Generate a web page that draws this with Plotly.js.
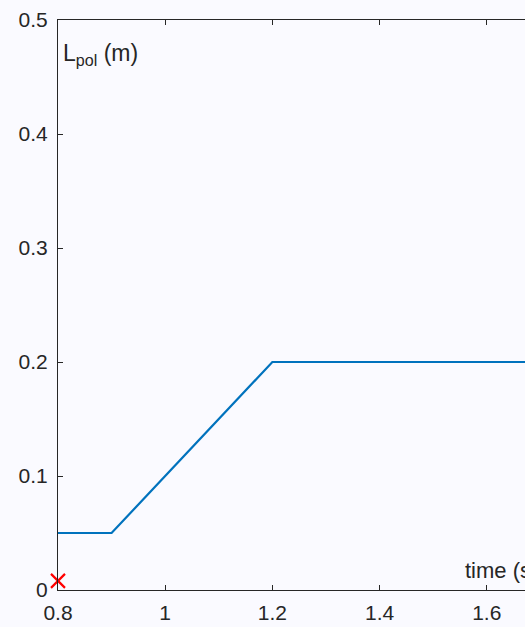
<!DOCTYPE html>
<html>
<head>
<meta charset="utf-8">
<script src="https://cdn.plot.ly/plotly-3.0.1.min.js"></script>
<style>
html,body{margin:0;padding:0;background:#fafaff;overflow:hidden;}
#chart{width:525px;height:627px;}
</style>
</head>
<body>
<div id="chart"></div>
<script>
// Data
var time = [0.8, 0.9, 1.2, 1.8];
var lpol = [0.05, 0.05, 0.2, 0.2];
var markerTime = [0.8];
var markerVal = [0.008];
var xTicks = [0.8, 1, 1.2, 1.4, 1.6];
var xTickText = ['0.8', '1', '1.2', '1.4', '1.6'];
var yTicks = [0, 0.1, 0.2, 0.3, 0.4, 0.5];
var yTickText = ['0', '0.1', '0.2', '0.3', '0.4', '0.5'];

var FONT = 'Liberation Sans, Arial, Helvetica, sans-serif';
var INK = '#262626';

var traces = [
  {x: time, y: lpol, type: 'scatter', mode: 'lines',
   line: {color: '#0072BD', width: 2.2}, hoverinfo: 'skip'},
  {x: markerTime, y: markerVal, type: 'scatter', mode: 'markers', cliponaxis: false,
   marker: {symbol: 'x-thin', size: 14, line: {color: '#ff0000', width: 2.2}, color: '#ff0000'},
   hoverinfo: 'skip'}
];

var layout = {
  width: 525, height: 627,
  margin: {l: 57.5, r: 0, t: 20, b: 37},
  paper_bgcolor: '#fafaff', plot_bgcolor: '#fafaff',
  showlegend: false,
  font: {family: FONT, size: 21, color: INK},
  xaxis: {
    range: [0.8, 0.8 + 467.5/536.5], tickvals: xTicks, ticktext: xTickText,
    showgrid: false, zeroline: false, showline: true, linecolor: INK, linewidth: 1,
    mirror: 'ticks', ticks: 'inside', ticklen: 5, tickcolor: INK, tickwidth: 1,
    ticklabelstandoff: 4,
    tickfont: {family: FONT, size: 21, color: INK}
  },
  yaxis: {
    range: [0, 0.5], tickvals: yTicks, ticktext: yTickText,
    showgrid: false, zeroline: false, showline: true, linecolor: INK, linewidth: 1,
    mirror: false, ticks: 'inside', ticklen: 5, tickcolor: INK, tickwidth: 1,
    ticklabelstandoff: 5,
    tickfont: {family: FONT, size: 21, color: INK}
  },
  annotations: [
    {x: 0.8, y: 0.47, xref: 'x', yref: 'y', xanchor: 'left', yanchor: 'middle', xshift: 3,
     text: 'L<sub>pol</sub> (m)', showarrow: false, font: {family: FONT, size: 23, color: INK}},
    {x: 1.556, y: 0.0175, xref: 'x', yref: 'y', xanchor: 'left', yanchor: 'middle',
     text: 'time (s)', showarrow: false, font: {family: FONT, size: 22, color: INK}}
  ]
};

Plotly.newPlot('chart', traces, layout, {displayModeBar: false, staticPlot: true});
</script>
</body>
</html>
